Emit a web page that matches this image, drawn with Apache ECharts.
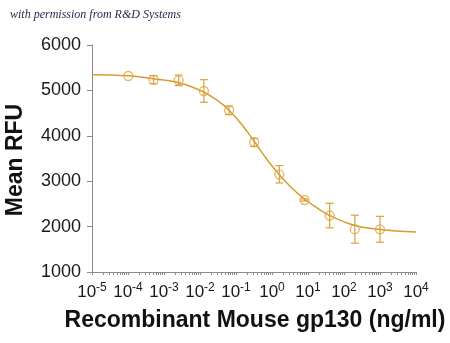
<!DOCTYPE html>
<html><head><meta charset="utf-8">
<script src="https://cdn.jsdelivr.net/npm/echarts@6/dist/echarts.min.js"></script>
<style>html,body{margin:0;padding:0;background:#fff}#c{width:450px;height:343px}</style>
</head><body><div id="c"></div>
<script>
// Data
const concentrations = [0.0001024, 0.000512, 0.00256, 0.0128, 0.064, 0.32, 1.6, 8, 40, 200, 1000];
const meanRFU = [5317, 5236, 5222, 4987, 4562, 3857, 3152, 2586, 2244, 1943, 1941];
const errorRFU = [0, 88, 117, 249, 95, 90, 191, 22, 271, 308, 285];
// Fitted curve
const curveX = [1e-5, 1e-4, 0.000501, 0.00251, 0.0126, 0.0316, 0.0631, 0.1413, 0.3162, 0.708, 1.585, 3.548, 7.943, 17.78, 39.81, 199.5, 1000, 10000];
const curveY = [5346, 5322, 5256, 5174, 4965, 4767, 4568, 4260, 3885, 3489, 3148, 2850, 2608, 2410, 2244, 2024, 1936, 1881];
// Axis ticks
const xTickExponents = [-5, -4, -3, -2, -1, 0, 1, 2, 3, 4];
const xMinorMultipliers = [2, 3, 4, 5, 6, 7, 8, 9];
const yTicks = [1000, 2000, 3000, 4000, 5000, 6000];

const orange = '#E2A23A';
const curveColor = '#D69C32';
const axisGray = '#8a8a8a';

const majorVals = xTickExponents.map(e => Math.pow(10, e));
const allTickVals = [];
xTickExponents.forEach((e, i) => {
  allTickVals.push(Math.pow(10, e));
  if (i < xTickExponents.length - 1) xMinorMultipliers.forEach(m => allTickVals.push(m * Math.pow(10, e)));
});

const chart = echarts.init(document.getElementById('c'), null, {renderer: 'canvas'});
chart.setOption({
  animation: false,
  backgroundColor: '#fff',
  grid: {left: 92, right: 34, top: 45, bottom: 71, containLabel: false},
  xAxis: {
    type: 'log', logBase: 10, min: 1e-5, max: 1e4,
    axisLine: {show: true, lineStyle: {color: axisGray, width: 1}},
    axisTick: {show: true, length: 3, inside: false, customValues: allTickVals, lineStyle: {color: axisGray}},
    splitLine: {show: false},
    minorTick: {show: false},
    axisLabel: {
      customValues: majorVals,
      margin: 10,
      formatter: v => '{b|10}{s|' + Math.round(Math.log10(v)) + '}',
      rich: {
        b: {fontSize: 17, fontFamily: 'Liberation Sans', color: '#1a1a1a'},
        s: {fontSize: 12, fontFamily: 'Liberation Sans', color: '#1a1a1a', padding: [0, 0, 9, 0]}
      }
    }
  },
  yAxis: {
    type: 'value', min: 1000, max: 6000, interval: 1000,
    axisLine: {show: true, lineStyle: {color: axisGray, width: 1}},
    axisTick: {show: true, length: 5, inside: false, lineStyle: {color: axisGray}},
    splitLine: {show: false},
    axisLabel: {fontSize: 18, fontFamily: 'Liberation Sans', color: '#1a1a1a', margin: 11,
      customValues: yTicks, formatter: v => String(v)}
  },
  graphic: [
    {type: 'text', left: 10, top: 9, style: {text: 'with permission from R&D Systems', font: 'italic 12px "Liberation Serif"', fill: '#2a2a50'}},
    {type: 'text', x: 255, y: 321, style: {text: 'Recombinant Mouse gp130 (ng/ml)', font: 'bold 23px "Liberation Sans"', fill: '#111', textAlign: 'center', textVerticalAlign: 'middle'}},
    {type: 'text', x: 16, y: 160, rotation: Math.PI / 2, style: {text: 'Mean RFU', font: 'bold 23px "Liberation Sans"', fill: '#111', textAlign: 'center', textVerticalAlign: 'middle'}}
  ],
  series: [
    {
      type: 'line', data: curveX.map((x, i) => [x, curveY[i]]), smooth: 0.4, showSymbol: false,
      lineStyle: {color: curveColor, width: 1.5}, z: 1, silent: true
    },
    {
      type: 'custom', z: 2,
      data: concentrations.map((c, i) => [c, meanRFU[i] - errorRFU[i], meanRFU[i] + errorRFU[i]]),
      encode: {x: 0, y: [1, 2]},
      renderItem: (params, api) => {
        const x = api.value(0);
        const lo = api.coord([x, api.value(1)]);
        const hi = api.coord([x, api.value(2)]);
        const hw = 4;
        const st = {stroke: '#D9A040', lineWidth: 1.2};
        if (Math.abs(hi[1] - lo[1]) < 0.5) return {type: 'group', children: []};
        return {type: 'group', children: [
          {type: 'line', shape: {x1: lo[0], y1: lo[1], x2: hi[0], y2: hi[1]}, style: st},
          {type: 'line', shape: {x1: lo[0] - hw, y1: lo[1], x2: lo[0] + hw, y2: lo[1]}, style: st},
          {type: 'line', shape: {x1: hi[0] - hw, y1: hi[1], x2: hi[0] + hw, y2: hi[1]}, style: st}
        ]};
      }
    },
    {
      type: 'scatter', z: 3, symbol: 'circle', symbolSize: 9,
      data: concentrations.map((c, i) => [c, meanRFU[i]]),
      itemStyle: {color: 'rgba(255,255,255,0)', borderColor: orange, borderWidth: 1.3}
    }
  ]
});
</script></body></html>
